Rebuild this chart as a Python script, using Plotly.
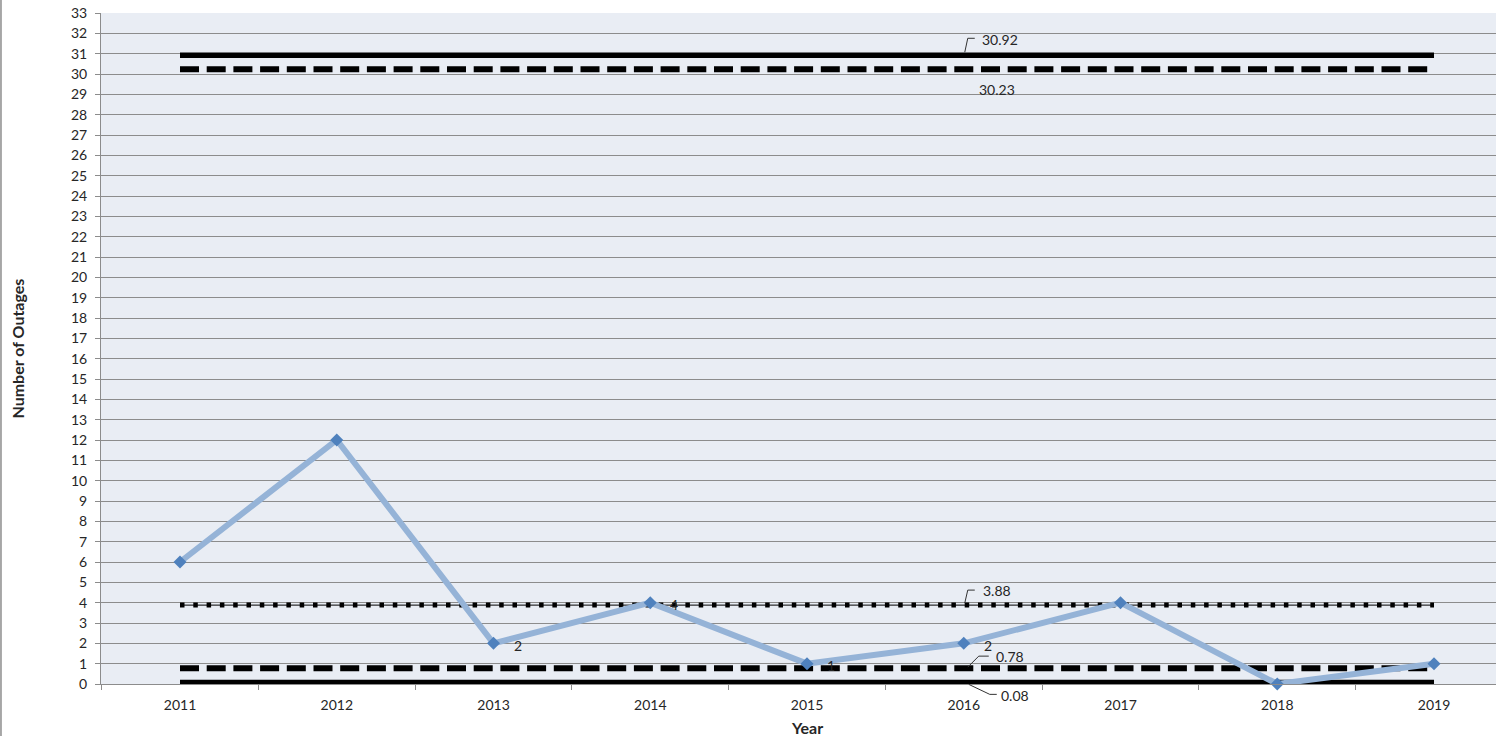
import plotly.graph_objects as go

# ---- data ----
years = ["2011", "2012", "2013", "2014", "2015", "2016", "2017", "2018", "2019"]
outages = [6, 12, 2, 4, 1, 2, 4, 0, 1]
point_labels = ["", "", "2", "4", "1", "2", "", "", ""]

upper_limit = 30.92   # solid
upper_warning = 30.23 # dashed
mean_value = 3.88     # dotted
lower_warning = 0.78  # dashed
lower_limit = 0.08    # solid

y_ticks = list(range(0, 34))

idx = list(range(len(years)))
x_ends = [idx[0], idx[-1]]

X_RANGE = [-0.504, 8.3955]
Y_RANGE = [0, 33]

FONT = "Lato, 'Open Sans', sans-serif"
TXT = "#262626"

fig = go.Figure()


def hline(value, dash, width, name):
    fig.add_trace(go.Scatter(
        x=x_ends, y=[value, value], mode="lines", name=name,
        line=dict(color="black", width=width, dash=dash),
        hoverinfo="skip", showlegend=False))


# mean: thin line plus dots
fig.add_trace(go.Scatter(x=x_ends, y=[mean_value, mean_value], mode="lines",
                         line=dict(color="black", width=1), showlegend=False, hoverinfo="skip"))
hline(mean_value, "4.5px,8.8px", 5, "Mean")
hline(upper_limit, "solid", 5.5, "UCL")
hline(upper_warning, "19px,7.7px", 6, "UWL")
hline(lower_warning, "19px,7.7px", 6, "LWL")
hline(lower_limit, "solid", 5, "LCL")

fig.add_trace(go.Scatter(
    x=idx, y=outages, mode="lines+markers", name="Outages",
    line=dict(color="#95B3D7", width=6),
    marker=dict(symbol="diamond", size=10, color="#4F81BD",
                line=dict(width=0)),
    cliponaxis=False,
    showlegend=False))

annotations = []
for i, lab in enumerate(point_labels):
    if lab:
        annotations.append(dict(x=idx[i], y=outages[i], text=lab, showarrow=False,
                                xanchor="left", yanchor="middle", xshift=18, yshift=-2,
                                font=dict(family=FONT, size=14, color=TXT)))

label_x = idx[5]
# threshold labels: (value, text, xshift, yshift)
thr_labels = [
    (upper_limit, f"{upper_limit:.2f}", 16, 16),
    (upper_warning, f"{upper_warning:.2f}", 13, -20),
    (mean_value, f"{mean_value:.2f}", 17, 15),
    (lower_warning, f"{lower_warning:.2f}", 30, 12),
    (lower_limit, f"{lower_limit:.2f}", 35, -13),
]
for v, t, xs, ys in thr_labels:
    annotations.append(dict(x=label_x, y=v, text=t, showarrow=False, xanchor="left",
                            yanchor="middle", xshift=xs, yshift=ys,
                            font=dict(family=FONT, size=14, color=TXT)))

# axis titles
annotations.append(dict(x=idx[4], y=0, xref="x", yref="y", text="<b>Year</b>", showarrow=False,
                        yanchor="middle", yshift=-43,
                        font=dict(family=FONT, size=16, color=TXT)))
annotations.append(dict(x=-0.0595, xref="paper", y=0.5, yref="paper", text="<b>Number of Outages</b>",
                        showarrow=False, textangle=-90, xanchor="center", yanchor="middle",
                        font=dict(family=FONT, size=16, color=TXT)))

shapes = []
# leader lines (pixel offsets relative to the label anchor), drawn in paper space so they are not clipped
label_x_paper = (label_x - X_RANGE[0]) / (X_RANGE[1] - X_RANGE[0])
leaders = [
    (upper_limit, "M1,3 L4,17 L11,17"),
    (mean_value, "M1,2 L4,15 L11,15"),
    (lower_warning, "M4,1 L15,12 L25,12"),
    (lower_limit, "M5,-2 L26,-12 L33,-12"),
]
for v, p in leaders:
    shapes.append(dict(type="path", xref="paper", yref="paper", xsizemode="pixel", ysizemode="pixel",
                       xanchor=label_x_paper, yanchor=(v - Y_RANGE[0]) / (Y_RANGE[1] - Y_RANGE[0]),
                       path=p, line=dict(color="#333333", width=1)))
# outer chart frame (left edge)
shapes.append(dict(type="line", xref="paper", yref="paper", x0=-0.0717, x1=-0.0717,
                   y0=-0.1, y1=1.03, line=dict(color="#8C8C8C", width=1.5)))
fig.update_layout(shapes=shapes, annotations=annotations)

fig.update_xaxes(
    range=X_RANGE, tickvals=idx, ticktext=years,
    ticks="outside", ticklen=8, tickcolor="rgba(0,0,0,0)",
    minor=dict(tick0=0.5, dtick=1, ticks="outside", ticklen=5, tickcolor="#8C8C8C", tickwidth=1),
    showgrid=False, zeroline=False, showline=True, linecolor="#8C8C8C", linewidth=1,
    tickfont=dict(family=FONT, size=14, color=TXT))
fig.update_yaxes(
    range=Y_RANGE, tickvals=y_ticks, ticks="outside", ticklen=5, tickcolor="#8C8C8C",
    ticklabelstandoff=5,
    showgrid=True, gridcolor="#8C8C8C", gridwidth=1, zeroline=False,
    showline=True, linecolor="#8C8C8C", linewidth=1,
    tickfont=dict(family=FONT, size=14, color=TXT))

fig.update_layout(
    width=1496, height=736,
    margin=dict(l=101, r=0, t=13, b=52),
    plot_bgcolor="#E9EDF4", paper_bgcolor="white",
    showlegend=False,
)

fig.write_html("out.html")
